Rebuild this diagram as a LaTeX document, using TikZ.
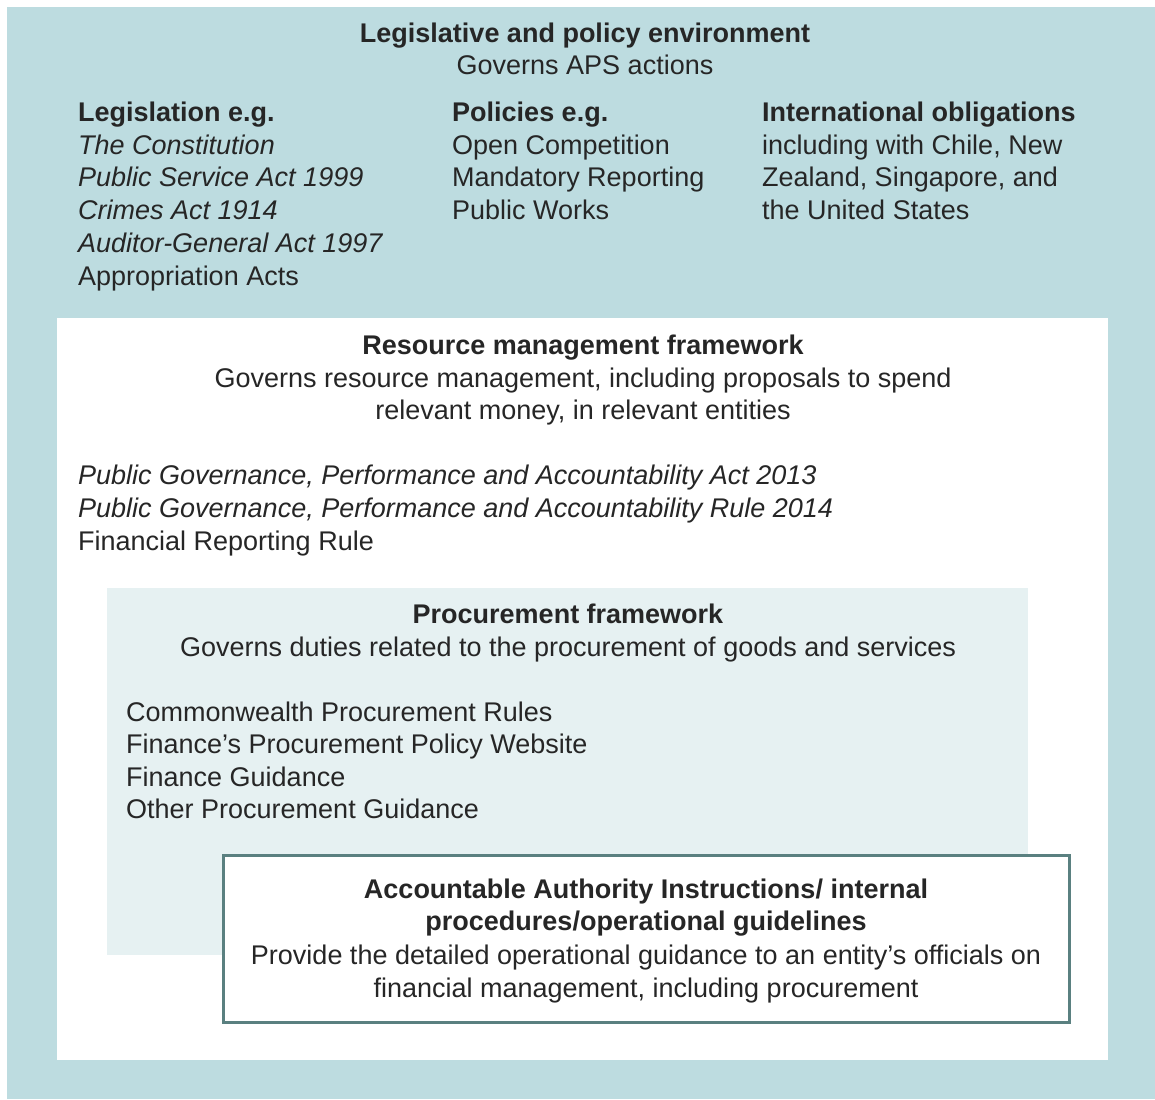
\documentclass[tikz,border=0pt]{standalone}
\usepackage{fontspec}
\setmainfont{Liberation Sans}
\definecolor{envteal}{HTML}{BDDCE0}
\definecolor{procblue}{HTML}{E6F1F2}
\definecolor{aaiedge}{HTML}{5A8080}
\definecolor{txtgrey}{HTML}{262626}
\tikzset{
  txt/.style={inner sep=0pt, text=txtgrey, font=\fontsize{27}{32.5}\selectfont},
  ln/.style={txt, anchor=base west},
  ctr/.style={txt, anchor=base},
}
\begin{document}
\begin{tikzpicture}[x=1pt,y=-1pt]
  \useasboundingbox (0,0) rectangle (1155,1099);
  % nested boxes
  \fill [envteal] (7,7) rectangle (1155,1099);
  \fill [white] (57,318) rectangle (1108,1060);
  \fill [procblue] (107,588) rectangle (1028,955);
  \draw [aaiedge, line width=3pt, fill=white] (223,855) rectangle (1069,1022);
  % legislative and policy environment
  \node [ctr] (envtitle) at (585,43) {\bfseries Legislative and policy environment};
  \node [ctr] (envsub) at (585,75) {Governs APS actions};
  \node [ln] (leghead) at (78,122) {\bfseries Legislation e.g.};
  \foreach \t [count=\i] in {The Constitution, Public Service Act 1999, Crimes Act 1914, Auditor-General Act 1997}
    \node [ln] (leg\i) at (78,122+32.5*\i) {\itshape\t};
  \node [ln] (leg5) at (78,285) {Appropriation Acts};
  \node [ln] (polhead) at (452,122) {\bfseries Policies e.g.};
  \foreach \t [count=\i] in {Open Competition, Mandatory Reporting, Public Works}
    \node [ln] (pol\i) at (452,122+32.5*\i) {\t};
  \node [ln] (inthead) at (762,122) {\bfseries International obligations};
  \foreach \t [count=\i] in {{including with Chile, New}, {Zealand, Singapore, and}, the United States}
    \node [ln] (int\i) at (762,122+32.5*\i) {\t};
  % resource management framework
  \node [ctr] (rmftitle) at (583,354) {\bfseries Resource management framework};
  \node [ctr] (rmfsub1) at (583,387) {Governs resource management, including proposals to spend};
  \node [ctr] (rmfsub2) at (583,419) {relevant money, in relevant entities};
  \node [ln] (pgpa1) at (78,484) {\itshape Public Governance, Performance and Accountability Act 2013};
  \node [ln] (pgpa2) at (78,517) {\itshape Public Governance, Performance and Accountability Rule 2014};
  \node [ln] (frr) at (78,550) {Financial Reporting Rule};
  % procurement framework
  \node [ctr] (proctitle) at (568,623) {\bfseries Procurement framework};
  \node [ctr] (procsub) at (568,656) {Governs duties related to the procurement of goods and services};
  \foreach \t [count=\i] in {Commonwealth Procurement Rules, Finance's Procurement Policy Website, Finance Guidance, Other Procurement Guidance}
    \node [ln] (proc\i) at (126,721+32.5*\i-32.5) {\t};
  % accountable authority instructions
  \node [ctr] (aai1) at (646,898) {\bfseries Accountable Authority Instructions/ internal};
  \node [ctr] (aai2) at (646,930) {\bfseries procedures/operational guidelines};
  \node [ctr] (aai3) at (646,964) {Provide the detailed operational guidance to an entity's officials on};
  \node [ctr] (aai4) at (646,997) {financial management, including procurement};
\end{tikzpicture}
\end{document}
